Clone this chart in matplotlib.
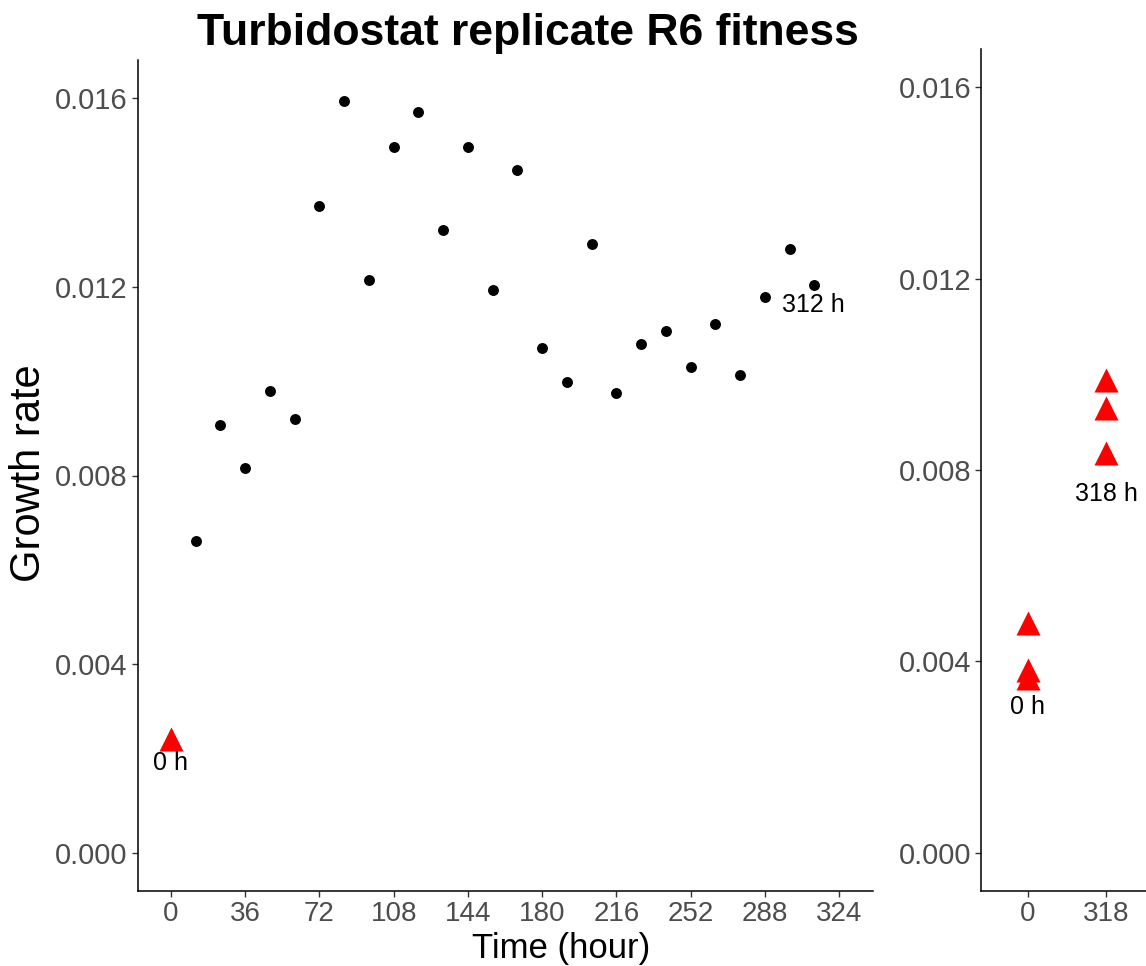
import matplotlib
matplotlib.use("Agg")
import matplotlib.pyplot as plt

plt.rcParams['font.family'] = ['Liberation Sans', 'DejaVu Sans']

# turbidostat samples (left panel)
time_h = [12, 24, 36, 48, 60, 72, 84, 96, 108, 120, 132, 144, 156,
          168, 180, 192, 204, 216, 228, 240, 252, 264, 276, 288, 300, 312]
growth = [0.00661, 0.00906, 0.00815, 0.00980, 0.00919, 0.01370, 0.01593,
          0.01213, 0.01496, 0.01569, 0.01320, 0.01495, 0.01192, 0.01447,
          0.01069, 0.00998, 0.01291, 0.00975, 0.01078, 0.01106, 0.01029,
          0.01121, 0.01013, 0.01177, 0.01280, 0.01203]
ancestor_time = [0]
ancestor_growth = [0.00241]
x_ticks = [0, 36, 72, 108, 144, 180, 216, 252, 288, 324]

# replicate measurements (right panel)
rep_labels = ["0", "318"]
rep_0h = [0.00481, 0.00381, 0.00365]
rep_318h = [0.00988, 0.00930, 0.00836]

y_ticks = [0.000, 0.004, 0.008, 0.012, 0.016]
y_tick_labels = ["0.000", "0.004", "0.008", "0.012", "0.016"]

W, H = 1146, 966
fig = plt.figure(figsize=(W / 100, H / 100), dpi=100)

def style(ax):
    for s in ["top", "right"]:
        ax.spines[s].set_visible(False)
    for s in ["left", "bottom"]:
        ax.spines[s].set_color("black")
        ax.spines[s].set_linewidth(1.1)
    ax.tick_params(axis="both", length=4.5, width=1, color="#333333",
                   labelcolor="#4D4D4D", labelsize=21, pad=2.5)
    ax.tick_params(axis="x", labelsize=20, pad=3)
    ax.set_ylim(-0.0008, 0.0168)
    ax.set_yticks(y_ticks)
    ax.set_yticklabels(y_tick_labels)

# left panel
ax1 = fig.add_axes([137.5 / W, (H - 891) / H, 735 / W, (891 - 60) / H])
ax1.scatter(time_h, growth, s=62, color="black", zorder=3, linewidths=0)
ax1.scatter(ancestor_time, ancestor_growth, s=300, marker="^", color="red",
            zorder=3, linewidths=0)
ax1.set_xlim(-16.2, 340.2)
ax1.set_xticks(x_ticks)
style(ax1)
ax1.annotate("0 h", (ancestor_time[0], ancestor_growth[0]), xytext=(0, -17),
             textcoords="offset points", ha="center", va="center", fontsize=18)
ax1.annotate("312 h", (time_h[-1], growth[-1]), xytext=(-1, -14),
             textcoords="offset points", ha="center", va="center", fontsize=18)

# right panel (discrete x axis, cut off by figure edge)
ax2 = fig.add_axes([981 / W, (H - 891) / H, 172 / W, (891 - 49) / H])
ax2.scatter([0] * len(rep_0h), rep_0h, s=300, marker="^", color="red",
            zorder=3, linewidths=0)
ax2.scatter([1] * len(rep_318h), rep_318h, s=300, marker="^", color="red",
            zorder=3, linewidths=0)
ax2.set_xlim(-0.6, 1.6)
ax2.set_xticks([0, 1])
ax2.set_xticklabels(rep_labels)
style(ax2)
ax2.annotate("0 h", (0, min(rep_0h)), xytext=(0, -21),
             textcoords="offset points", ha="center", va="center", fontsize=18)
ax2.annotate("318 h", (1, min(rep_318h)), xytext=(0, -30),
             textcoords="offset points", ha="center", va="center", fontsize=18)

fig.text(528 / W, 1 - 45 / H, "Turbidostat replicate R6 fitness",
         ha="center", va="baseline", fontsize=32, fontweight="bold")
fig.text(561 / W, 1 - 958 / H, "Time (hour)", ha="center", va="baseline",
         fontsize=25)
fig.text(29 / W, 1 - 473 / H, "Growth rate", ha="center", va="center",
         rotation=90, fontsize=30)

fig.savefig("out.png", dpi=100)
